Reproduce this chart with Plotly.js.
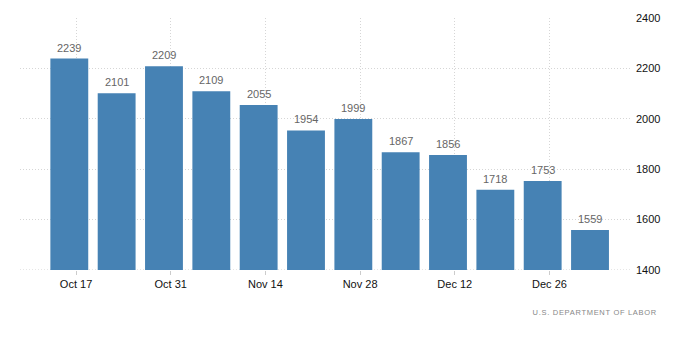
<!DOCTYPE html>
<html>
<head>
<meta charset="utf-8">
<script src="https://cdn.plot.ly/plotly-3.0.1.min.js"></script>
<style>
html,body{margin:0;padding:0;background:#fff;}
#chart{width:700px;height:361px;}
g.annotation[data-index="12"] text{letter-spacing:0.7px;}
</style>
</head>
<body>
<div id="chart"></div>
<script>
const weeks = ['2016-10-16','2016-10-23','2016-10-30','2016-11-06','2016-11-13','2016-11-20','2016-11-27','2016-12-04','2016-12-11','2016-12-18','2016-12-25','2017-01-01'];
const values = [2239,2101,2209,2109,2055,1954,1999,1867,1856,1718,1753,1559];
const tickDates = ['2016-10-17','2016-10-31','2016-11-14','2016-11-28','2016-12-12','2016-12-26'];
const tickLabels = ['Oct 17','Oct 31','Nov 14','Nov 28','Dec 12','Dec 26'];
const sourceText = 'U.S. DEPARTMENT OF LABOR';

const font = 'Liberation Sans, Arial, sans-serif';

const annotations = weeks.map((d,i)=>({
  x: d, y: values[i], xref:'x', yref:'y',
  text: String(values[i]), showarrow:false,
  yanchor:'bottom', yshift:3,
  font:{family:font, size:11, color:'#666666'}
}));
annotations.push({
  xref:'paper', yref:'paper', x:0.848, y:-0.17, xanchor:'left', yanchor:'middle',
  text: sourceText, showarrow:false,
  font:{family:font, size:7.5, color:'#888888'}
});

const trace = {
  type:'bar', x:weeks, y:values,
  marker:{color:'#4682b4', line:{width:0}},
  hoverinfo:'skip'
};

const layout = {
  width:700, height:361,
  margin:{l:20, r:68, t:18, b:91},
  paper_bgcolor:'#ffffff', plot_bgcolor:'#ffffff',
  showlegend:false,
  bargap:0.2,
  font:{family:font, size:11, color:'#333333'},
  xaxis:{
    type:'date',
    range:['2016-10-08T17:00','2017-01-07T05:00'],
    tickmode:'array', tickvals:tickDates, ticktext:tickLabels,
    showgrid:true, gridcolor:'#d6d6d6', griddash:'1px,2px', gridwidth:1,
    ticks:'outside', ticklen:4, tickcolor:'#cccccc',
    showline:false, zeroline:false,
    tickfont:{family:font, size:11, color:'#111111'}
  },
  yaxis:{
    side:'right',
    range:[1400,2400], dtick:200, tick0:1400,
    showgrid:true, gridcolor:'#d6d6d6', griddash:'1px,2px', gridwidth:1,
    ticks:'', showline:false, zeroline:false,
    ticklabelstandoff:3,
    tickfont:{family:font, size:11, color:'#111111'}
  },
  shapes:[{
    type:'line', layer:'below', xref:'paper', yref:'y', x0:0, x1:1, y0:1400, y1:1400,
    line:{color:'#cccccc', width:1, dash:'1px,2px'}
  }],
  annotations:annotations
};

Plotly.newPlot('chart',[trace],layout,{displayModeBar:false, staticPlot:true});
</script>
</body>
</html>
